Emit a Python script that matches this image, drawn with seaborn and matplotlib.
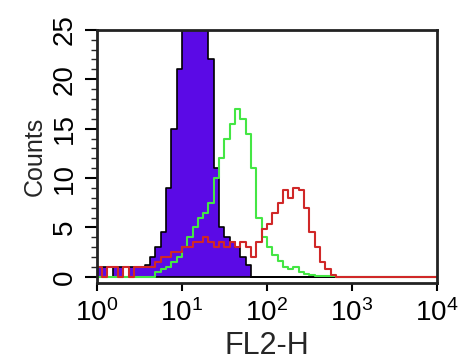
import numpy as np
import pandas as pd
import matplotlib
matplotlib.use("Agg")
import matplotlib.pyplot as plt
import seaborn as sns
from matplotlib.ticker import LogLocator, FixedLocator, MultipleLocator, FuncFormatter

# counts per channel, 64 channels over 4 decades (16 per decade)
isotype = [1, 1, 0, 1, 1, 0, 1, 1, 1, 1.2,
           2, 3, 4.5, 9, 15, 21, 33, 40, 38, 34,
           29, 22, 11, 5, 4, 3.5, 3, 2, 1.2, 0,
           0, 0, 0, 0, 0, 0, 0, 0, 0, 0,
           0, 0, 0, 0, 0, 0, 0, 0, 0, 0,
           0, 0, 0, 0, 0, 0, 0, 0, 0, 0,
           0, 0, 0, 0]
green = [0, 0, 0, 0, 0, 0, 0, 0, 0, 0,
         0, 0.5, 0.8, 1, 1.5, 2, 3, 4, 5, 6,
         6.5, 7.5, 10, 12, 14, 15.5, 17, 16, 14.5, 11,
         6, 4, 3, 2.2, 1.6, 1, 0.8, 1, 0.5, 0.3,
         0.2, 0.1, 0.1, 0.1, 0.1, 0, 0, 0, 0, 0,
         0, 0, 0, 0, 0, 0, 0, 0, 0, 0,
         0, 0, 0, 0]
red = [1, 0, 1, 1, 0, 1, 0, 1, 1, 1,
       1, 1.5, 2, 2, 2.5, 2.5, 3, 3, 3.5, 3.5,
       4, 3.5, 3, 3.5, 3, 3.5, 3, 3.5, 3, 2,
       3.5, 4.8, 5.4, 6.5, 7.5, 8.8, 8, 9, 8.8, 7,
       4.5, 3, 1.5, 0.8, 0.2, 0, 0, 0, 0, 0,
       0, 0, 0, 0, 0, 0, 0, 0, 0, 0,
       0, 0, 0, 0]
y_ticks = [0, 5, 10, 15, 20, 25]
x_decades = [1, 10, 100, 1000, 10000]

n = len(isotype)
chan = 10 ** ((np.arange(n) + 0.5) / 16)
df = pd.DataFrame({"FL2-H": chan, "iso": isotype, "green": green, "red": red})

sns.set_style("ticks")
plt.rcParams["font.family"] = ["Liberation Sans", "DejaVu Sans"]
plt.rcParams["mathtext.fontset"] = "custom"
plt.rcParams["mathtext.rm"] = "Liberation Sans"
plt.rcParams["mathtext.it"] = "Liberation Sans"

fig = plt.figure(figsize=(4.59, 3.64), dpi=100)
ax = fig.add_axes([0.211, 0.223, 0.741, 0.695])

kw = dict(x="FL2-H", bins=n, binrange=(0, 4), log_scale=True, element="step", ax=ax)
sns.histplot(df, weights="iso", fill=True, color="#5b0ae6", alpha=1,
             edgecolor="black", linewidth=1.2, **kw)
sns.histplot(df, weights="green", fill=False, color="#44e644", linewidth=1.5, **kw)
sns.histplot(df, weights="red", fill=False, color="#d02828", linewidth=1.5, **kw)

ax.set_xlim(1, 1e4)
ax.set_ylim(-0.6, 25)
ax.yaxis.set_major_locator(FixedLocator(y_ticks))
ax.yaxis.set_minor_locator(MultipleLocator(1))
ax.xaxis.set_major_locator(FixedLocator(x_decades))
ax.xaxis.set_minor_locator(LogLocator(base=10, subs=np.arange(2, 10)))
ax.xaxis.set_major_formatter(FuncFormatter(lambda v, p: r"$\mathrm{10^{%d}}$" % round(np.log10(v))))

ax.tick_params(axis="y", which="major", length=9, width=1.5, labelsize=20, pad=5, colors="black")
ax.tick_params(axis="y", which="minor", length=4, width=1)
ax.tick_params(axis="x", which="major", length=6, width=1.5, labelsize=20, pad=6, colors="black")
ax.tick_params(axis="x", which="minor", length=3, width=1)
for lab in ax.get_yticklabels():
    lab.set_rotation(90)
    lab.set_va("center")
for s in ax.spines.values():
    s.set_linewidth(2)
    s.set_color("#222222")

ax.set_xlabel("FL2-H", fontsize=22, labelpad=3)
ax.set_ylabel("Counts", fontsize=18, labelpad=3)

fig.savefig("out.png", dpi=100)
